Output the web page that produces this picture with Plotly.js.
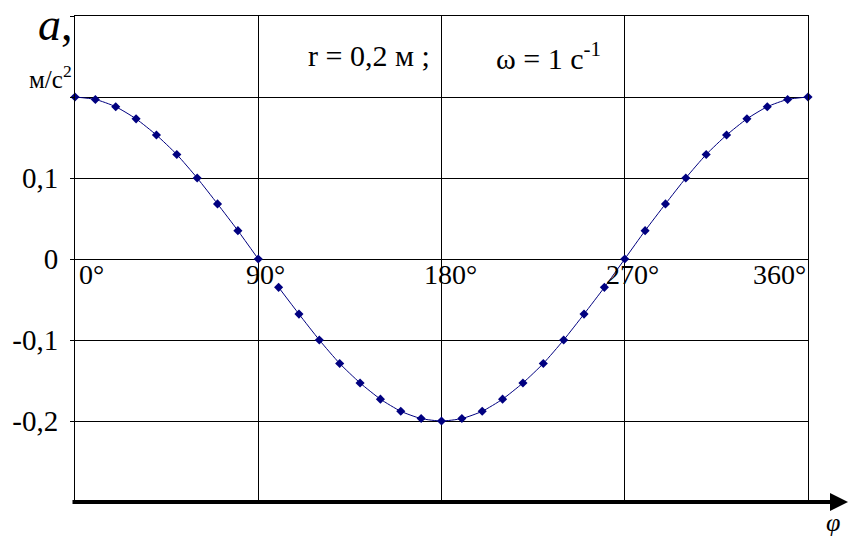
<!DOCTYPE html>
<html>
<head>
<meta charset="utf-8">
<script src="https://cdn.plot.ly/plotly-3.0.1.min.js"></script>
<style>html,body{margin:0;padding:0;background:#fff;}#chart{width:868px;height:552px;}</style>
</head>
<body>
<div id="chart"></div>
<script>
// angle φ, degrees — first branch (0°..90°)
const phiA = [0, 10, 20, 30, 40, 50, 60, 70, 80, 90];
const accA = [0.2, 0.197, 0.188, 0.173, 0.153, 0.129, 0.1, 0.068, 0.035, 0];
// second branch (100°..360°)
const phiB = [100, 110, 120, 130, 140, 150, 160, 170, 180, 190, 200, 210, 220, 230, 240, 250, 260, 270, 280, 290, 300, 310, 320, 330, 340, 350, 360];
const accB = [-0.035, -0.068, -0.1, -0.129, -0.153, -0.173, -0.188, -0.197, -0.2, -0.197, -0.188, -0.173, -0.153, -0.129, -0.1, -0.068, -0.035, 0, 0.035, 0.068, 0.1, 0.129, 0.153, 0.173, 0.188, 0.197, 0.2];

const xTicks = [0, 90, 180, 270, 360];
const xTickLabels = ['0°', '90°', '180°', '270°', '360°'];
const yGrid = [0.3, 0.2, 0.1, 0, -0.1, -0.2];
const yGridLabels = ['', '', '0,1', '0', '-0,1', '-0,2'];

const serif = 'Liberation Serif, Times New Roman, serif';
const navy = '#000080';

const mk = (x, y) => ({
  x: x, y: y, type: 'scatter', mode: 'lines+markers',
  line: {color: navy, width: 1, shape: 'spline', smoothing: 0.6},
  marker: {color: navy, size: 7, symbol: 'diamond'},
  hoverinfo: 'skip', showlegend: false, cliponaxis: false
});

const xShifts = [2, 7, 9, 8, 0];
const xAnchors = ['left', 'center', 'center', 'center', 'right'];
const annotations = xTicks.map((v, i) => ({
  x: v, y: 0, xref: 'x', yref: 'y', text: xTickLabels[i], showarrow: false,
  xanchor: xAnchors[i], yanchor: 'top', xshift: xShifts[i], yshift: 2,
  font: {family: serif, size: 28, color: '#000'}
}));

annotations.push(
  {xref: 'paper', yref: 'paper', x: (306 - 75) / 733, y: (502 - 56) / 486, xanchor: 'left', yanchor: 'middle',
   text: 'r = 0,2 м ;', showarrow: false, font: {family: serif, size: 30, color: '#000'}},
  {xref: 'paper', yref: 'paper', x: (494 - 75) / 733, y: (502 - 56) / 486, xanchor: 'left', yanchor: 'middle',
   text: 'ω = 1 с<sup>-1</sup>', showarrow: false, font: {family: serif, size: 30, color: '#000'}},
  {xref: 'paper', yref: 'paper', x: (36 - 75) / 733, y: (502 - 24) / 486, xanchor: 'left', yanchor: 'middle',
   text: '<i>a</i>,', showarrow: false, font: {family: serif, size: 46, color: '#000'}},
  {xref: 'paper', yref: 'paper', x: (74 - 75) / 733, y: (502 - 77) / 486, xanchor: 'right', yanchor: 'middle',
   text: 'м/с<sup>2</sup>', showarrow: false, font: {family: serif, size: 25, color: '#000'}},
  {xref: 'paper', yref: 'paper', x: (833 - 75) / 733, y: (502 - 522) / 486, xanchor: 'center', yanchor: 'middle',
   text: '<i>φ</i>', showarrow: false, font: {family: serif, size: 26, color: '#000'}},
  {xref: 'paper', yref: 'paper', x: (848 - 75) / 733, y: 0, ax: -777, ay: 0, axref: 'pixel', ayref: 'pixel',
   text: '', showarrow: true, arrowhead: 2, arrowsize: 0.9, arrowwidth: 4, arrowcolor: '#000'}
);

const layout = {
  width: 868, height: 552,
  margin: {l: 75, r: 60, t: 16, b: 50},
  paper_bgcolor: '#fff', plot_bgcolor: '#fff',
  showlegend: false,
  xaxis: {
    range: [0, 360], tickvals: xTicks, showticklabels: false, ticks: '',
    showgrid: true, gridcolor: '#000', gridwidth: 1, zeroline: false,
    showline: true, linecolor: '#000', linewidth: 1, mirror: true, fixedrange: true
  },
  yaxis: {
    range: [-0.3, 0.3], tickvals: yGrid, ticktext: yGridLabels, ticks: 'outside', ticklen: 4, tickcolor: '#000',
    showgrid: true, gridcolor: '#000', gridwidth: 1, zeroline: false,
    showline: true, linecolor: '#000', linewidth: 1, mirror: true,
    ticklabelstandoff: 6,
    tickfont: {family: serif, size: 29, color: '#000'}, fixedrange: true
  },
  annotations: annotations
};

Plotly.newPlot('chart', [mk(phiA, accA), mk(phiB, accB)], layout, {displayModeBar: false, staticPlot: true});
</script>
</body>
</html>
